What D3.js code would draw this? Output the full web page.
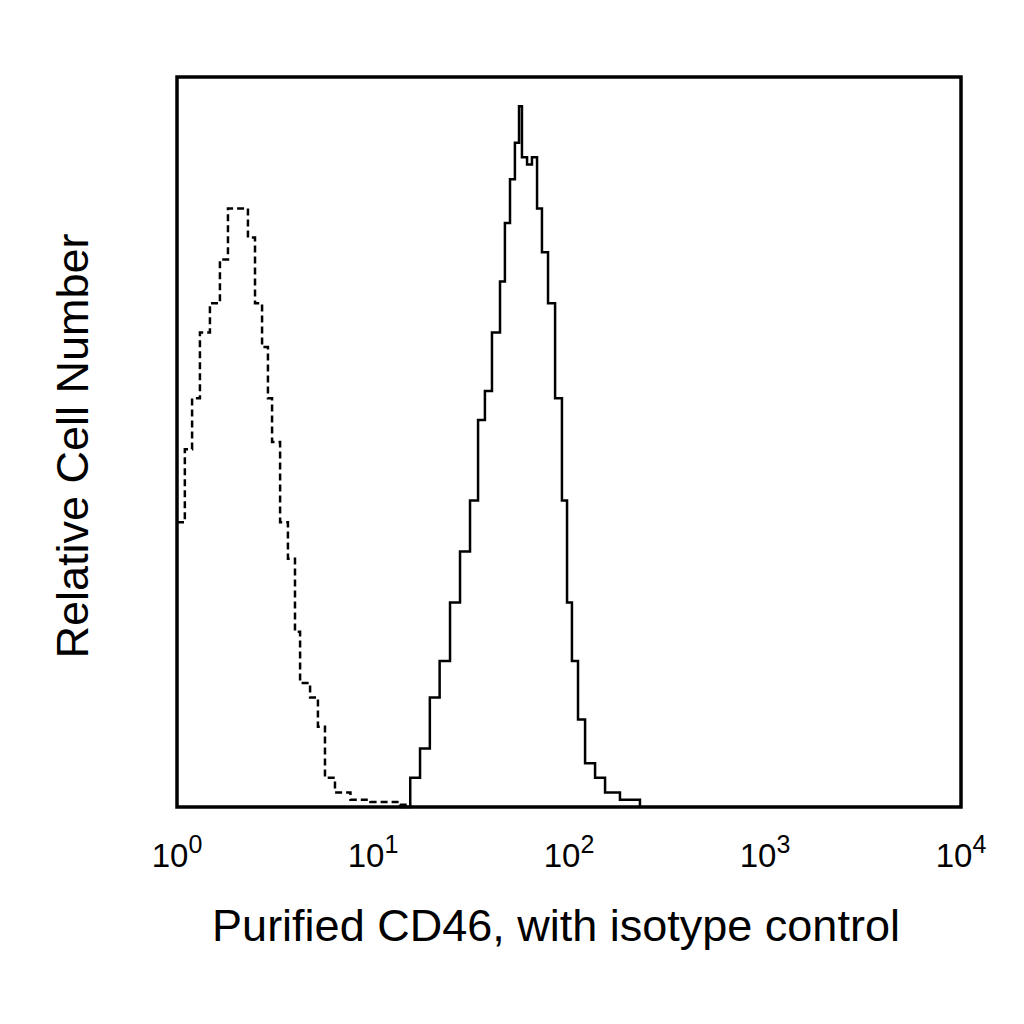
<!DOCTYPE html>
<html><head><meta charset="utf-8">
<script src="https://cdn.jsdelivr.net/npm/d3@7"></script>
<style>body{margin:0;background:#fff}</style></head>
<body><svg id="c" width="1024" height="1024"></svg>
<script>
const tickExps = [0,1,2,3,4];
const xLabel = "Purified CD46, with isotype control";
const yLabel = "Relative Cell Number";
// fluorescence (log10 decades) and relative counts
const isoLog = [0,0.04,0.077,0.117,0.168,0.219,0.26,0.296,0.332,0.362,0.398,0.434,0.464,0.485,0.526,0.566,0.602,0.628,0.679,0.719,0.755,0.806,0.885,0.987,1.138,1.19];
const isoVal = [39,49,56,65,69,75,82,82,82,78,69,63,56,50,39,34,24,17,15,11,4,2,1,0.7,0.3,0];
const cdLog = [1.138,1.19,1.24,1.29,1.34,1.393,1.444,1.495,1.536,1.571,1.607,1.648,1.673,1.699,1.724,1.745,1.76,1.786,1.811,1.837,1.862,1.893,1.929,1.964,1.99,2.015,2.046,2.082,2.133,2.184,2.26,2.362];
const cdVal = [0,4,8,15,20,28,35,42,53,57,65,72,80,86,91,96,89,88,89,82,76,69,56,42,28,20,12,6,4,2,1,0];

const svg = d3.select("#c");
const L=177,R=961,T=77,B=807;
const x = d3.scaleLog().domain([1,1e4]).range([L,R]);
const y = d3.scaleLinear().domain([0,100]).range([B,T]);
const line = d3.line().x(d=>x(Math.pow(10,d[0]))).y(d=>y(d[1])).curve(d3.curveStepAfter);
svg.append("path").datum(isoLog.map((v,i)=>[v,isoVal[i]])).attr("d",line)
  .attr("fill","none").attr("stroke","#000").attr("stroke-width",2.5).attr("stroke-dasharray","7,4");
svg.append("path").datum(cdLog.map((v,i)=>[v,cdVal[i]])).attr("d",line)
  .attr("fill","none").attr("stroke","#000").attr("stroke-width",2.5);
svg.append("rect").attr("x",L).attr("y",T).attr("width",R-L).attr("height",B-T)
  .attr("fill","none").attr("stroke","#000").attr("stroke-width",3.5);
const f="Liberation Sans, Arial, sans-serif";
tickExps.forEach(e=>{
  const t=svg.append("text").attr("x",x(Math.pow(10,e))).attr("y",867).attr("text-anchor","middle")
    .attr("font-family",f).attr("font-size",33);
  t.append("tspan").text("10");
  t.append("tspan").attr("dy",-14).attr("font-size",25).text(e);
});
svg.append("text").attr("x",556).attr("y",941).attr("text-anchor","middle").attr("font-family",f)
  .attr("font-size",45).text(xLabel);
svg.append("text").attr("transform","translate(88,446) rotate(-90)").attr("text-anchor","middle")
  .attr("font-family",f).attr("font-size",45).text(yLabel);
</script></body></html>
